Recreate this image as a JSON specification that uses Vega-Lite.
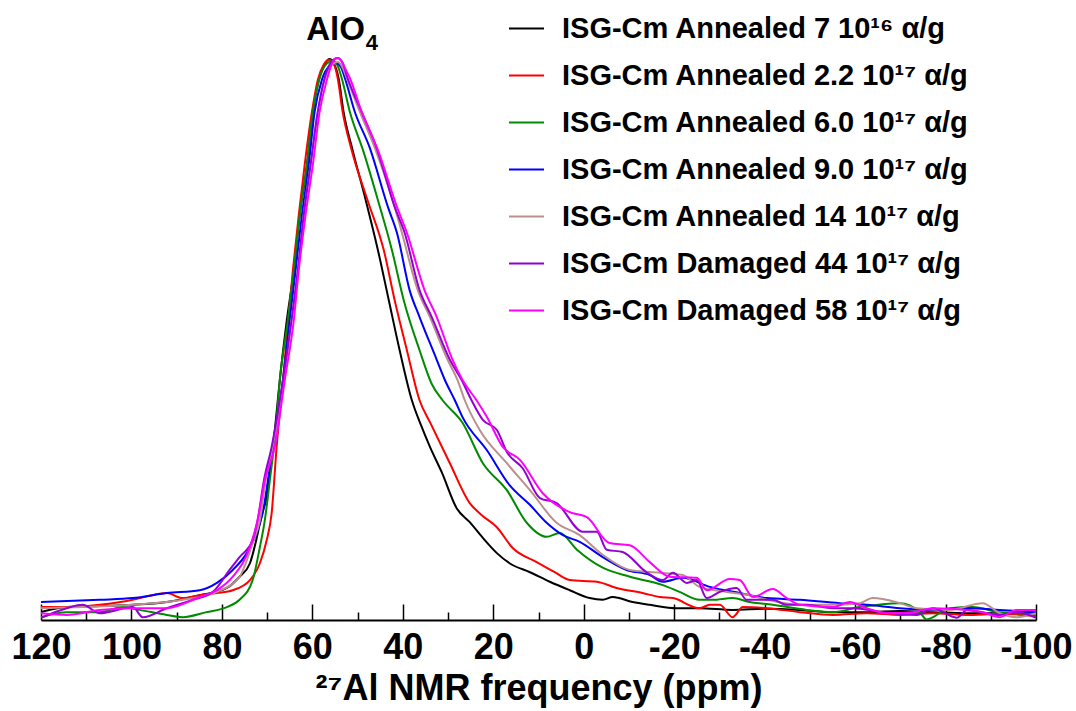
{
  "$schema": "https://vega.github.io/schema/vega-lite/v6.json",
  "width": 995,
  "height": 610,
  "autosize": {"type": "none"},
  "padding": {"left": 41, "top": 10, "right": 40, "bottom": 91},
  "background": "white",
  "config": {"view": {"stroke": null}, "font": "Liberation Sans"},
  "datasets": {
    "series": [
      {"s": 1, "name": "ISG-Cm Annealed 7 10¹⁶ α/g"},
      {"s": 2, "name": "ISG-Cm Annealed 2.2 10¹⁷ α/g"},
      {"s": 3, "name": "ISG-Cm Annealed 6.0 10¹⁷ α/g"},
      {"s": 4, "name": "ISG-Cm Annealed 9.0 10¹⁷ α/g"},
      {"s": 5, "name": "ISG-Cm Annealed 14 10¹⁷ α/g"},
      {"s": 6, "name": "ISG-Cm Damaged 44 10¹⁷ α/g"},
      {"s": 7, "name": "ISG-Cm Damaged 58 10¹⁷ α/g"}
    ],
    "curves": [
      {"s":1,"ppm":120,"v":0.014},{"s":1,"ppm":114.3,"v":0.023},{"s":1,"ppm":107.0,"v":0.025},{"s":1,"ppm":99.7,"v":0.027},{"s":1,"ppm":92.2,"v":0.032},{"s":1,"ppm":84.9,"v":0.044},{"s":1,"ppm":78.9,"v":0.057},{"s":1,"ppm":76.1,"v":0.077},{"s":1,"ppm":73.8,"v":0.101},{"s":1,"ppm":72.5,"v":0.139},{"s":1,"ppm":71.2,"v":0.187},{"s":1,"ppm":70.1,"v":0.219},{"s":1,"ppm":69.2,"v":0.276},{"s":1,"ppm":68.3,"v":0.338},{"s":1,"ppm":67.2,"v":0.427},{"s":1,"ppm":65.7,"v":0.530},{"s":1,"ppm":64.1,"v":0.623},{"s":1,"ppm":62.8,"v":0.721},{"s":1,"ppm":61.2,"v":0.810},{"s":1,"ppm":59.9,"v":0.904},{"s":1,"ppm":58.4,"v":0.966},{"s":1,"ppm":57.2,"v":0.990},{"s":1,"ppm":56.2,"v":0.998},{"s":1,"ppm":55.3,"v":0.991},{"s":1,"ppm":54.2,"v":0.964},{"s":1,"ppm":53.1,"v":0.904},{"s":1,"ppm":51.1,"v":0.836},{"s":1,"ppm":48.2,"v":0.747},{"s":1,"ppm":45.5,"v":0.658},{"s":1,"ppm":43.1,"v":0.569},{"s":1,"ppm":40.7,"v":0.480},{"s":1,"ppm":38.0,"v":0.391},{"s":1,"ppm":36.0,"v":0.347},{"s":1,"ppm":34.0,"v":0.308},{"s":1,"ppm":31.4,"v":0.263},{"s":1,"ppm":28.1,"v":0.199},{"s":1,"ppm":25.2,"v":0.174},{"s":1,"ppm":22.3,"v":0.146},{"s":1,"ppm":19.2,"v":0.119},{"s":1,"ppm":16.4,"v":0.101},{"s":1,"ppm":11.9,"v":0.085},{"s":1,"ppm":7.5,"v":0.068},{"s":1,"ppm":3.1,"v":0.053},{"s":1,"ppm":-1.3,"v":0.039},{"s":1,"ppm":-4.2,"v":0.036},{"s":1,"ppm":-6.4,"v":0.041},{"s":1,"ppm":-10.8,"v":0.032},{"s":1,"ppm":-14.6,"v":0.027},{"s":1,"ppm":-20.6,"v":0.021},{"s":1,"ppm":-25.6,"v":0.021},{"s":1,"ppm":-32.9,"v":0.018},{"s":1,"ppm":-40.5,"v":0.020},{"s":1,"ppm":-47.8,"v":0.018},{"s":1,"ppm":-55.1,"v":0.014},{"s":1,"ppm":-62.6,"v":0.014},{"s":1,"ppm":-69.9,"v":0.016},{"s":1,"ppm":-77.2,"v":0.014},{"s":1,"ppm":-84.7,"v":0.012},{"s":1,"ppm":-92.0,"v":0.012},{"s":1,"ppm":-100,"v":0.012},
      {"s":2,"ppm":120,"v":0.023},{"s":2,"ppm":114.3,"v":0.023},{"s":2,"ppm":107.0,"v":0.027},{"s":2,"ppm":99.7,"v":0.036},{"s":2,"ppm":96.0,"v":0.043},{"s":2,"ppm":92.2,"v":0.048},{"s":2,"ppm":88.7,"v":0.039},{"s":2,"ppm":84.9,"v":0.044},{"s":2,"ppm":81.1,"v":0.048},{"s":2,"ppm":77.6,"v":0.053},{"s":2,"ppm":73.8,"v":0.071},{"s":2,"ppm":71.6,"v":0.101},{"s":2,"ppm":70.1,"v":0.142},{"s":2,"ppm":69.0,"v":0.190},{"s":2,"ppm":67.9,"v":0.308},{"s":2,"ppm":66.5,"v":0.427},{"s":2,"ppm":64.3,"v":0.623},{"s":2,"ppm":63.0,"v":0.721},{"s":2,"ppm":61.7,"v":0.810},{"s":2,"ppm":60.1,"v":0.904},{"s":2,"ppm":58.8,"v":0.961},{"s":2,"ppm":57.5,"v":0.988},{"s":2,"ppm":56.3,"v":0.997},{"s":2,"ppm":55.3,"v":0.990},{"s":2,"ppm":54.4,"v":0.964},{"s":2,"ppm":53.3,"v":0.904},{"s":2,"ppm":51.3,"v":0.836},{"s":2,"ppm":47.8,"v":0.747},{"s":2,"ppm":44.2,"v":0.658},{"s":2,"ppm":41.8,"v":0.569},{"s":2,"ppm":39.1,"v":0.480},{"s":2,"ppm":36.3,"v":0.391},{"s":2,"ppm":34.0,"v":0.352},{"s":2,"ppm":29.6,"v":0.279},{"s":2,"ppm":25.2,"v":0.208},{"s":2,"ppm":22.6,"v":0.187},{"s":2,"ppm":19.2,"v":0.165},{"s":2,"ppm":15.7,"v":0.128},{"s":2,"ppm":10.4,"v":0.103},{"s":2,"ppm":6.4,"v":0.085},{"s":2,"ppm":3.1,"v":0.071},{"s":2,"ppm":-2.9,"v":0.068},{"s":2,"ppm":-7.3,"v":0.057},{"s":2,"ppm":-13.0,"v":0.048},{"s":2,"ppm":-16.8,"v":0.041},{"s":2,"ppm":-19.7,"v":0.039},{"s":2,"ppm":-25.6,"v":0.021},{"s":2,"ppm":-27.9,"v":0.027},{"s":2,"ppm":-30.1,"v":0.027},{"s":2,"ppm":-32.9,"v":0.005},{"s":2,"ppm":-35.2,"v":0.023},{"s":2,"ppm":-40.5,"v":0.021},{"s":2,"ppm":-47.8,"v":0.014},{"s":2,"ppm":-55.1,"v":0.009},{"s":2,"ppm":-62.6,"v":0.012},{"s":2,"ppm":-69.9,"v":0.009},{"s":2,"ppm":-77.2,"v":0.012},{"s":2,"ppm":-84.7,"v":0.009},{"s":2,"ppm":-92.0,"v":0.011},{"s":2,"ppm":-100,"v":0.007},
      {"s":3,"ppm":120,"v":0.005},{"s":3,"ppm":114.3,"v":0.014},{"s":3,"ppm":107.0,"v":0.014},{"s":3,"ppm":101.9,"v":0.023},{"s":3,"ppm":98.2,"v":0.018},{"s":3,"ppm":92.2,"v":0.009},{"s":3,"ppm":88.7,"v":0.005},{"s":3,"ppm":83.4,"v":0.014},{"s":3,"ppm":78.9,"v":0.023},{"s":3,"ppm":76.1,"v":0.036},{"s":3,"ppm":73.2,"v":0.071},{"s":3,"ppm":71.6,"v":0.130},{"s":3,"ppm":70.5,"v":0.178},{"s":3,"ppm":69.4,"v":0.249},{"s":3,"ppm":68.1,"v":0.338},{"s":3,"ppm":67.2,"v":0.427},{"s":3,"ppm":65.4,"v":0.534},{"s":3,"ppm":64.1,"v":0.623},{"s":3,"ppm":62.8,"v":0.721},{"s":3,"ppm":61.2,"v":0.810},{"s":3,"ppm":59.9,"v":0.904},{"s":3,"ppm":58.4,"v":0.964},{"s":3,"ppm":56.8,"v":0.990},{"s":3,"ppm":55.5,"v":0.995},{"s":3,"ppm":54.4,"v":0.986},{"s":3,"ppm":53.5,"v":0.964},{"s":3,"ppm":51.7,"v":0.904},{"s":3,"ppm":48.8,"v":0.836},{"s":3,"ppm":45.5,"v":0.747},{"s":3,"ppm":42.4,"v":0.658},{"s":3,"ppm":39.8,"v":0.569},{"s":3,"ppm":36.3,"v":0.480},{"s":3,"ppm":33.6,"v":0.420},{"s":3,"ppm":31.2,"v":0.391},{"s":3,"ppm":26.8,"v":0.351},{"s":3,"ppm":22.3,"v":0.279},{"s":3,"ppm":17.0,"v":0.231},{"s":3,"ppm":12.6,"v":0.173},{"s":3,"ppm":8.2,"v":0.148},{"s":3,"ppm":5.3,"v":0.155},{"s":3,"ppm":1.5,"v":0.125},{"s":3,"ppm":-4.2,"v":0.093},{"s":3,"ppm":-10.2,"v":0.077},{"s":3,"ppm":-17.5,"v":0.062},{"s":3,"ppm":-21.2,"v":0.050},{"s":3,"ppm":-25.6,"v":0.036},{"s":3,"ppm":-28.5,"v":0.036},{"s":3,"ppm":-32.9,"v":0.039},{"s":3,"ppm":-36.7,"v":0.032},{"s":3,"ppm":-41.8,"v":0.027},{"s":3,"ppm":-49.3,"v":0.018},{"s":3,"ppm":-55.1,"v":0.014},{"s":3,"ppm":-61.0,"v":0.023},{"s":3,"ppm":-69.9,"v":0.030},{"s":3,"ppm":-74.3,"v":0.014},{"s":3,"ppm":-75.8,"v":0.001},{"s":3,"ppm":-80.9,"v":0.021},{"s":3,"ppm":-86.0,"v":0.023},{"s":3,"ppm":-92.0,"v":0.014},{"s":3,"ppm":-100,"v":0.011},
      {"s":4,"ppm":120,"v":0.032},{"s":4,"ppm":107.0,"v":0.036},{"s":4,"ppm":99.7,"v":0.039},{"s":4,"ppm":92.2,"v":0.048},{"s":4,"ppm":84.9,"v":0.053},{"s":4,"ppm":81.1,"v":0.066},{"s":4,"ppm":77.6,"v":0.089},{"s":4,"ppm":74.5,"v":0.119},{"s":4,"ppm":72.3,"v":0.155},{"s":4,"ppm":71.0,"v":0.190},{"s":4,"ppm":68.8,"v":0.308},{"s":4,"ppm":66.5,"v":0.427},{"s":4,"ppm":65.0,"v":0.534},{"s":4,"ppm":63.7,"v":0.623},{"s":4,"ppm":62.3,"v":0.721},{"s":4,"ppm":60.8,"v":0.810},{"s":4,"ppm":59.5,"v":0.904},{"s":4,"ppm":57.9,"v":0.961},{"s":4,"ppm":56.2,"v":0.986},{"s":4,"ppm":54.8,"v":0.991},{"s":4,"ppm":53.7,"v":0.984},{"s":4,"ppm":52.8,"v":0.964},{"s":4,"ppm":50.6,"v":0.904},{"s":4,"ppm":47.3,"v":0.840},{"s":4,"ppm":43.3,"v":0.735},{"s":4,"ppm":41.3,"v":0.689},{"s":4,"ppm":38.5,"v":0.587},{"s":4,"ppm":36.3,"v":0.539},{"s":4,"ppm":32.5,"v":0.463},{"s":4,"ppm":30.7,"v":0.427},{"s":4,"ppm":28.5,"v":0.391},{"s":4,"ppm":26.8,"v":0.361},{"s":4,"ppm":21.4,"v":0.302},{"s":4,"ppm":16.4,"v":0.240},{"s":4,"ppm":11.9,"v":0.205},{"s":4,"ppm":8.2,"v":0.173},{"s":4,"ppm":4.6,"v":0.151},{"s":4,"ppm":0.9,"v":0.139},{"s":4,"ppm":-4.2,"v":0.112},{"s":4,"ppm":-9.5,"v":0.089},{"s":4,"ppm":-14.6,"v":0.080},{"s":4,"ppm":-17.5,"v":0.068},{"s":4,"ppm":-21.9,"v":0.075},{"s":4,"ppm":-27.9,"v":0.059},{"s":4,"ppm":-34.5,"v":0.048},{"s":4,"ppm":-40.5,"v":0.039},{"s":4,"ppm":-47.8,"v":0.036},{"s":4,"ppm":-56.6,"v":0.030},{"s":4,"ppm":-62.6,"v":0.027},{"s":4,"ppm":-69.9,"v":0.021},{"s":4,"ppm":-77.2,"v":0.018},{"s":4,"ppm":-84.7,"v":0.021},{"s":4,"ppm":-92.0,"v":0.018},{"s":4,"ppm":-100,"v":0.014},
      {"s":5,"ppm":120,"v":0.021},{"s":5,"ppm":110.8,"v":0.023},{"s":5,"ppm":99.7,"v":0.027},{"s":5,"ppm":88.7,"v":0.036},{"s":5,"ppm":81.1,"v":0.050},{"s":5,"ppm":76.1,"v":0.077},{"s":5,"ppm":73.2,"v":0.137},{"s":5,"ppm":71.6,"v":0.178},{"s":5,"ppm":70.3,"v":0.249},{"s":5,"ppm":68.8,"v":0.308},{"s":5,"ppm":66.3,"v":0.427},{"s":5,"ppm":64.6,"v":0.534},{"s":5,"ppm":63.2,"v":0.623},{"s":5,"ppm":61.9,"v":0.721},{"s":5,"ppm":60.4,"v":0.810},{"s":5,"ppm":58.8,"v":0.904},{"s":5,"ppm":57.3,"v":0.961},{"s":5,"ppm":55.7,"v":0.988},{"s":5,"ppm":54.4,"v":0.993},{"s":5,"ppm":53.5,"v":0.986},{"s":5,"ppm":52.4,"v":0.964},{"s":5,"ppm":49.5,"v":0.904},{"s":5,"ppm":46.2,"v":0.840},{"s":5,"ppm":41.8,"v":0.735},{"s":5,"ppm":40.2,"v":0.689},{"s":5,"ppm":36.7,"v":0.587},{"s":5,"ppm":34.0,"v":0.539},{"s":5,"ppm":30.1,"v":0.463},{"s":5,"ppm":27.9,"v":0.427},{"s":5,"ppm":26.3,"v":0.391},{"s":5,"ppm":23.0,"v":0.338},{"s":5,"ppm":17.0,"v":0.279},{"s":5,"ppm":11.9,"v":0.231},{"s":5,"ppm":6.0,"v":0.173},{"s":5,"ppm":0.9,"v":0.151},{"s":5,"ppm":-4.2,"v":0.116},{"s":5,"ppm":-10.2,"v":0.089},{"s":5,"ppm":-15.3,"v":0.085},{"s":5,"ppm":-21.9,"v":0.080},{"s":5,"ppm":-25.6,"v":0.059},{"s":5,"ppm":-31.6,"v":0.050},{"s":5,"ppm":-36.7,"v":0.044},{"s":5,"ppm":-40.5,"v":0.036},{"s":5,"ppm":-47.8,"v":0.027},{"s":5,"ppm":-55.1,"v":0.027},{"s":5,"ppm":-61.0,"v":0.030},{"s":5,"ppm":-63.9,"v":0.039},{"s":5,"ppm":-69.9,"v":0.030},{"s":5,"ppm":-73.6,"v":0.021},{"s":5,"ppm":-80.9,"v":0.018},{"s":5,"ppm":-88.2,"v":0.030},{"s":5,"ppm":-92.0,"v":0.012},{"s":5,"ppm":-95.7,"v":0.005},{"s":5,"ppm":-100,"v":0.012},
      {"s":6,"ppm":120,"v":0.004},{"s":6,"ppm":114.3,"v":0.021},{"s":6,"ppm":110.8,"v":0.027},{"s":6,"ppm":107.0,"v":0.012},{"s":6,"ppm":99.7,"v":0.023},{"s":6,"ppm":97.5,"v":0.005},{"s":6,"ppm":92.2,"v":0.021},{"s":6,"ppm":86.4,"v":0.036},{"s":6,"ppm":82.0,"v":0.050},{"s":6,"ppm":78.3,"v":0.089},{"s":6,"ppm":76.1,"v":0.112},{"s":6,"ppm":73.2,"v":0.142},{"s":6,"ppm":72.1,"v":0.178},{"s":6,"ppm":70.7,"v":0.249},{"s":6,"ppm":69.0,"v":0.308},{"s":6,"ppm":66.5,"v":0.427},{"s":6,"ppm":64.6,"v":0.534},{"s":6,"ppm":63.2,"v":0.623},{"s":6,"ppm":61.9,"v":0.721},{"s":6,"ppm":60.4,"v":0.810},{"s":6,"ppm":58.8,"v":0.904},{"s":6,"ppm":57.3,"v":0.964},{"s":6,"ppm":55.7,"v":0.994},{"s":6,"ppm":54.4,"v":1.000},{"s":6,"ppm":53.3,"v":0.991},{"s":6,"ppm":52.2,"v":0.964},{"s":6,"ppm":49.1,"v":0.904},{"s":6,"ppm":45.8,"v":0.840},{"s":6,"ppm":41.8,"v":0.735},{"s":6,"ppm":39.6,"v":0.689},{"s":6,"ppm":36.3,"v":0.587},{"s":6,"ppm":33.6,"v":0.539},{"s":6,"ppm":29.6,"v":0.463},{"s":6,"ppm":27.0,"v":0.427},{"s":6,"ppm":24.8,"v":0.391},{"s":6,"ppm":22.3,"v":0.356},{"s":6,"ppm":19.2,"v":0.338},{"s":6,"ppm":17.0,"v":0.299},{"s":6,"ppm":13.5,"v":0.270},{"s":6,"ppm":9.7,"v":0.217},{"s":6,"ppm":6.0,"v":0.208},{"s":6,"ppm":0.2,"v":0.157},{"s":6,"ppm":-2.9,"v":0.157},{"s":6,"ppm":-5.1,"v":0.125},{"s":6,"ppm":-8.6,"v":0.121},{"s":6,"ppm":-13.9,"v":0.085},{"s":6,"ppm":-17.5,"v":0.071},{"s":6,"ppm":-19.7,"v":0.084},{"s":6,"ppm":-22.8,"v":0.066},{"s":6,"ppm":-25.0,"v":0.071},{"s":6,"ppm":-27.2,"v":0.039},{"s":6,"ppm":-30.1,"v":0.050},{"s":6,"ppm":-33.8,"v":0.057},{"s":6,"ppm":-36.0,"v":0.036},{"s":6,"ppm":-41.8,"v":0.036},{"s":6,"ppm":-44.9,"v":0.027},{"s":6,"ppm":-49.3,"v":0.027},{"s":6,"ppm":-55.1,"v":0.021},{"s":6,"ppm":-59.5,"v":0.021},{"s":6,"ppm":-66.1,"v":0.014},{"s":6,"ppm":-73.6,"v":0.009},{"s":6,"ppm":-77.2,"v":0.021},{"s":6,"ppm":-82.5,"v":0.004},{"s":6,"ppm":-84.7,"v":0.018},{"s":6,"ppm":-92.0,"v":0.009},{"s":6,"ppm":-95.7,"v":0.014},{"s":6,"ppm":-100,"v":0.004},
      {"s":7,"ppm":120,"v":0.012},{"s":7,"ppm":114.3,"v":0.009},{"s":7,"ppm":107.0,"v":0.018},{"s":7,"ppm":99.7,"v":0.021},{"s":7,"ppm":92.2,"v":0.021},{"s":7,"ppm":84.9,"v":0.041},{"s":7,"ppm":81.1,"v":0.053},{"s":7,"ppm":77.6,"v":0.077},{"s":7,"ppm":73.8,"v":0.130},{"s":7,"ppm":72.1,"v":0.178},{"s":7,"ppm":70.5,"v":0.249},{"s":7,"ppm":68.3,"v":0.308},{"s":7,"ppm":66.1,"v":0.427},{"s":7,"ppm":64.1,"v":0.534},{"s":7,"ppm":63.0,"v":0.623},{"s":7,"ppm":61.5,"v":0.721},{"s":7,"ppm":59.9,"v":0.810},{"s":7,"ppm":58.4,"v":0.904},{"s":7,"ppm":56.8,"v":0.961},{"s":7,"ppm":55.5,"v":0.993},{"s":7,"ppm":54.6,"v":1.000},{"s":7,"ppm":53.7,"v":0.996},{"s":7,"ppm":52.6,"v":0.979},{"s":7,"ppm":51.7,"v":0.964},{"s":7,"ppm":49.1,"v":0.904},{"s":7,"ppm":45.5,"v":0.836},{"s":7,"ppm":41.3,"v":0.735},{"s":7,"ppm":39.1,"v":0.689},{"s":7,"ppm":35.2,"v":0.587},{"s":7,"ppm":32.5,"v":0.539},{"s":7,"ppm":29.0,"v":0.463},{"s":7,"ppm":26.8,"v":0.427},{"s":7,"ppm":23.7,"v":0.391},{"s":7,"ppm":21.4,"v":0.361},{"s":7,"ppm":17.9,"v":0.308},{"s":7,"ppm":14.1,"v":0.285},{"s":7,"ppm":9.1,"v":0.226},{"s":7,"ppm":3.1,"v":0.192},{"s":7,"ppm":-0.7,"v":0.183},{"s":7,"ppm":-5.7,"v":0.137},{"s":7,"ppm":-10.2,"v":0.133},{"s":7,"ppm":-14.6,"v":0.103},{"s":7,"ppm":-19.0,"v":0.077},{"s":7,"ppm":-25.0,"v":0.075},{"s":7,"ppm":-27.2,"v":0.053},{"s":7,"ppm":-32.3,"v":0.073},{"s":7,"ppm":-34.5,"v":0.071},{"s":7,"ppm":-37.4,"v":0.041},{"s":7,"ppm":-41.8,"v":0.055},{"s":7,"ppm":-44.9,"v":0.039},{"s":7,"ppm":-47.8,"v":0.027},{"s":7,"ppm":-55.1,"v":0.023},{"s":7,"ppm":-58.8,"v":0.032},{"s":7,"ppm":-62.6,"v":0.021},{"s":7,"ppm":-67.0,"v":0.012},{"s":7,"ppm":-72.7,"v":0.014},{"s":7,"ppm":-77.2,"v":0.021},{"s":7,"ppm":-84.7,"v":0.018},{"s":7,"ppm":-88.2,"v":0.014},{"s":7,"ppm":-92.0,"v":0.005},{"s":7,"ppm":-95.7,"v":0.018},{"s":7,"ppm":-100,"v":0.018}
    ]
  },
  "layer": [
    {
      "data": {"name": "curves"},
      "transform": [
        {"lookup": "s", "from": {"data": {"name": "series"}, "key": "s", "fields": ["name"]}}
      ],
      "mark": {"type": "line", "strokeWidth": 2, "interpolate": "monotone", "clip": true},
      "encoding": {
        "x": {
          "field": "ppm",
          "type": "quantitative",
          "scale": {"domain": [-100, 120], "reverse": true, "nice": false, "zero": false},
          "axis": {
            "values": [120, 110, 100, 90, 80, 70, 60, 50, 40, 30, 20, 10, 0, -10, -20, -30, -40, -50, -60, -70, -80, -90, -100],
            "labelExpr": "datum.value % 20 == 0 ? toString(datum.value) : ''",
            "tickSize": {"condition": {"test": "datum.value % 20 == 0", "value": -16}, "value": -8},
            "tickWidth": 1.5,
            "tickColor": "black",
            "domainColor": "black",
            "domainWidth": 2,
            "grid": false,
            "labelFont": "Liberation Sans",
            "labelFontSize": 36,
            "labelFontWeight": "bold",
            "labelColor": "black",
            "labelPadding": 26,
            "labelOverlap": false,
            "labelFlush": false,
            "labelBound": false,
            "title": "²⁷Al NMR frequency (ppm)",
            "titleFont": "Liberation Sans",
            "titleFontSize": 36,
            "titleFontWeight": "bold",
            "titleColor": "black",
            "titlePadding": -2
          }
        },
        "y": {
          "field": "v",
          "type": "quantitative",
          "scale": {"domain": [0, 1.0854], "nice": false, "zero": false},
          "axis": null
        },
        "color": {
          "field": "name",
          "type": "nominal",
          "scale": {
            "domain": [
              "ISG-Cm Annealed 7 10¹⁶ α/g",
              "ISG-Cm Annealed 2.2 10¹⁷ α/g",
              "ISG-Cm Annealed 6.0 10¹⁷ α/g",
              "ISG-Cm Annealed 9.0 10¹⁷ α/g",
              "ISG-Cm Annealed 14 10¹⁷ α/g",
              "ISG-Cm Damaged 44 10¹⁷ α/g",
              "ISG-Cm Damaged 58 10¹⁷ α/g"
            ],
            "range": ["#000000", "#ff0000", "#008b00", "#0000ff", "#bc8f8f", "#9400d3", "#ff00ff"]
          },
          "legend": {
            "orient": "none",
            "legendX": 467,
            "legendY": 0,
            "title": null,
            "padding": 0,
            "symbolType": "stroke",
            "symbolSize": 1225,
            "symbolStrokeWidth": 2,
            "labelFont": "Liberation Sans",
            "labelFontSize": 29,
            "labelFontWeight": "bold",
            "labelColor": "black",
            "labelLimit": 700,
            "labelOffset": 17,
            "rowPadding": 13
          }
        }
      }
    },
    {
      "data": {"values": [{"label": "AlO"}]},
      "mark": {"type": "text", "font": "Liberation Sans", "fontSize": 33, "fontWeight": "bold", "baseline": "alphabetic", "align": "right", "color": "black"},
      "encoding": {
        "x": {"datum": 48.4, "type": "quantitative"},
        "y": {"datum": 1.032, "type": "quantitative"},
        "text": {"field": "label"}
      }
    },
    {
      "data": {"values": [{"label": "4"}]},
      "mark": {"type": "text", "font": "Liberation Sans", "fontSize": 22, "fontWeight": "bold", "baseline": "alphabetic", "align": "left", "dx": 1, "dy": 10, "color": "black"},
      "encoding": {
        "x": {"datum": 48.4, "type": "quantitative"},
        "y": {"datum": 1.032, "type": "quantitative"},
        "text": {"field": "label"}
      }
    }
  ]
}
